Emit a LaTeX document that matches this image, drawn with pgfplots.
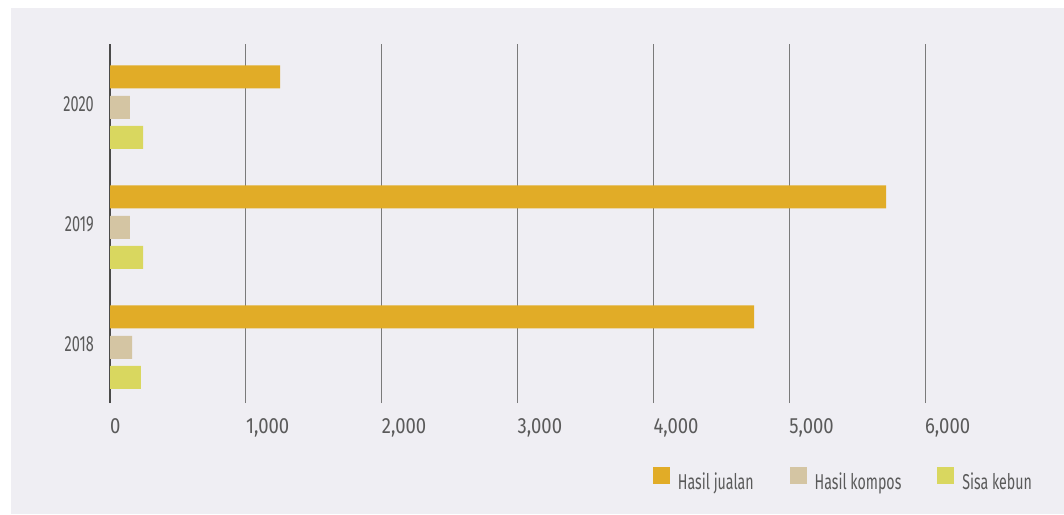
\documentclass[border=0pt]{standalone}
\usepackage{pgfplots}
\pgfplotsset{compat=1.18}
\usepackage{fontspec}
\setmainfont{Fira Sans}[FakeStretch=0.66]
\newfontfamily\xfont{Fira Sans}[FakeStretch=0.84]
\definecolor{bg}{HTML}{EFEEF3}
\definecolor{cJ}{HTML}{E1AC27}
\definecolor{cK}{HTML}{D4C5A3}
\definecolor{cS}{HTML}{D9D75F}
\definecolor{txt}{HTML}{5A5A5A}
\definecolor{axc}{HTML}{4A4A4A}
\definecolor{gridc}{HTML}{7A7A7A}
\begin{document}
\fontsize{22}{25}\selectfont
\begin{tikzpicture}[x=1pt,y=1pt]
\fill[white] (0,0) rectangle (1064,514);
\fill[bg] (11,0) rectangle (1064,506);
\begin{axis}[
  at={(110pt,111pt)}, anchor=south west,
  scale only axis, width=815pt, height=359pt,
  xmin=0, xmax=6000, ymin=-0.4625, ymax=2.529,
  xbar, bar width=23pt,
  axis lines*=left,
  x axis line style={draw=none},
  y axis line style={line width=2.4pt, color=axc, -},
  xtick={0,1000,2000,3000,4000,5000,6000},
  ytick={0,1,2}, yticklabels={2018,2019,2020},
  major tick length=0pt,
  xmajorgrids, grid style={color=gridc, line width=1pt},
  /pgf/number format/.cd, 1000 sep={,}, assume math mode=true, /pgfplots/.cd,
  xticklabel style={anchor=north west, inner sep=0pt, yshift=-15pt, text=txt, font=\xfont},
  yticklabel style={anchor=east, inner sep=0pt, xshift=-16pt, yshift=3pt, text=txt},
  legend columns=3,
  legend style={draw=none, fill=none, at={(0.666,-0.2145)}, anchor=west, inner sep=0pt,
    nodes={inner sep=0pt, text=txt, font=\fontsize{21.5}{25}\selectfont},
    /tikz/every odd column/.append style={column sep=8pt},
    /tikz/every even column/.append style={column sep=36pt}},
  legend image code/.code={\fill[#1] (0pt,-1.5pt) rectangle (17pt,15.5pt);},
]
\addplot[fill=cJ, draw=none, bar shift=30.5pt] coordinates {(4742,0) (5714,1) (1252,2)};
\addplot[fill=cK, draw=none, bar shift=0pt] coordinates {(162,0) (147,1) (147,2)};
\addplot[fill=cS, draw=none, bar shift=-30pt] coordinates {(228,0) (243,1) (243,2)};
\legend{Hasil jualan, Hasil kompos, Sisa kebun}
\end{axis}
\end{tikzpicture}
\end{document}
